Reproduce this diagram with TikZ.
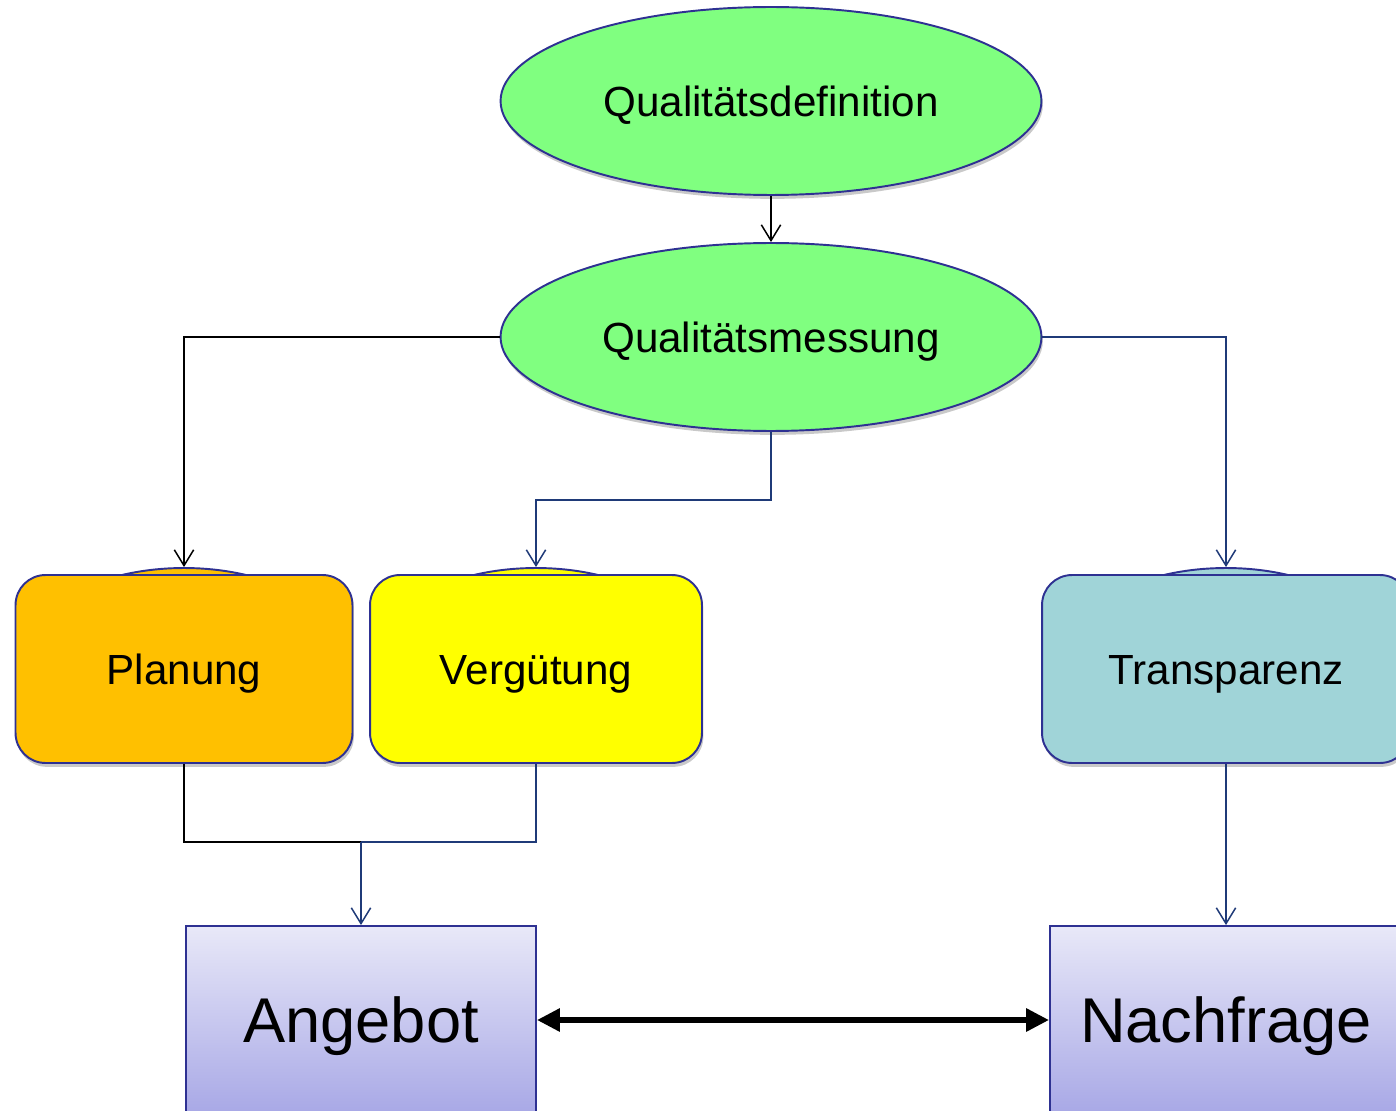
\documentclass[tikz,border=0pt]{standalone}
\usepackage{fontspec}
\setmainfont{Liberation Sans}
\usetikzlibrary{arrows.meta,shadows,shapes.geometric}

\definecolor{qgreen}{HTML}{80FF80}
\definecolor{qnavy}{HTML}{2E3192}
\definecolor{qline}{HTML}{1F3A78}
\definecolor{qorange}{HTML}{FFC000}
\definecolor{qyellow}{HTML}{FFFF00}
\definecolor{qteal}{HTML}{A0D4D8}
\definecolor{qtop}{HTML}{E8E8F8}
\definecolor{qbottom}{HTML}{A8A8E6}

\begin{document}
\begin{tikzpicture}[x=0.02cm,y=-0.02cm,
		softshadow/.style={drop shadow={shadow xshift=0.8pt,shadow yshift=-2.2pt,opacity=0.3,fill=black!70}},
		goal/.style={ellipse,draw=qnavy,line width=1.1pt,fill=qgreen,minimum width=10.82cm,minimum height=3.76cm,
			inner sep=0pt,font=\fontsize{24}{28}\selectfont,text height=17.2pt,text depth=0pt,softshadow},
		field/.style={rectangle,rounded corners=0.6cm,draw=qnavy,line width=1.1pt,minimum height=3.76cm,
			inner sep=0pt,font=\fontsize{24}{28}\selectfont,text height=17.2pt,text depth=0pt,softshadow},
		bump/.style={draw=qnavy,line width=1.1pt},
		market/.style={rectangle,draw=qnavy,line width=1.1pt,top color=qtop,bottom color=qbottom,
			minimum height=3.76cm,inner sep=0pt,font=\fontsize{36}{42}\selectfont,text height=25.8pt,text depth=0pt,softshadow},
		flow/.style={-{Straight Barb[length=9pt,width=11pt]},line width=0.85pt},
		swap/.style={{Triangle[length=13pt,width=12.5pt]}-{Triangle[length=13pt,width=12.5pt]},line width=3.2pt},
	]
	\useasboundingbox (0,0) rectangle (1396,1111);
	%
	\node[goal] (def) at (771,101) {Qualitätsdefinition};
	\node[goal] (mess) at (771,337) {Qualitätsmessung};
	%
	\draw[bump,fill=qorange] (184,660) ellipse [x radius=3.24cm,y radius=1.84cm];
	\draw[bump,fill=qyellow] (536,660) ellipse [x radius=3.24cm,y radius=1.84cm];
	\draw[bump,fill=qteal] (1226,660) ellipse [x radius=3.24cm,y radius=1.84cm];
	\node[field,fill=qorange,minimum width=6.74cm] (plan) at (184,669) {Planung};
	\node[field,fill=qyellow,minimum width=6.64cm] (verg) at (536,669) {Vergütung};
	\node[field,fill=qteal,minimum width=7.36cm] (trans) at (1226,669) {Transparenz};
	%
	\node[market,minimum width=7cm] (ang) at (361,1020) {Angebot};
	\node[market,minimum width=7.04cm] (nach) at (1226,1020) {Nachfrage};
	\coordinate (join) at (361,842);
	%
	\draw[flow] (def.south) -- (mess.north);
	\draw[flow] (mess.west) -| ([yshift=0.14cm]plan.north);
	\draw[flow,qline] (mess.south) -- ++(0,68) -| ([yshift=0.14cm]verg.north);
	\draw[flow,qline] (mess.east) -| ([yshift=0.14cm]trans.north);
	\draw[line width=0.85pt] (plan.south) |- (join);
	\draw[line width=0.85pt,qline] (verg.south) |- (join);
	\draw[flow,qline] (join) -- (ang.north);
	\draw[flow,qline] (trans.south) -- (nach.north);
	\draw[swap] (ang.east) -- (nach.west);
\end{tikzpicture}
\end{document}
